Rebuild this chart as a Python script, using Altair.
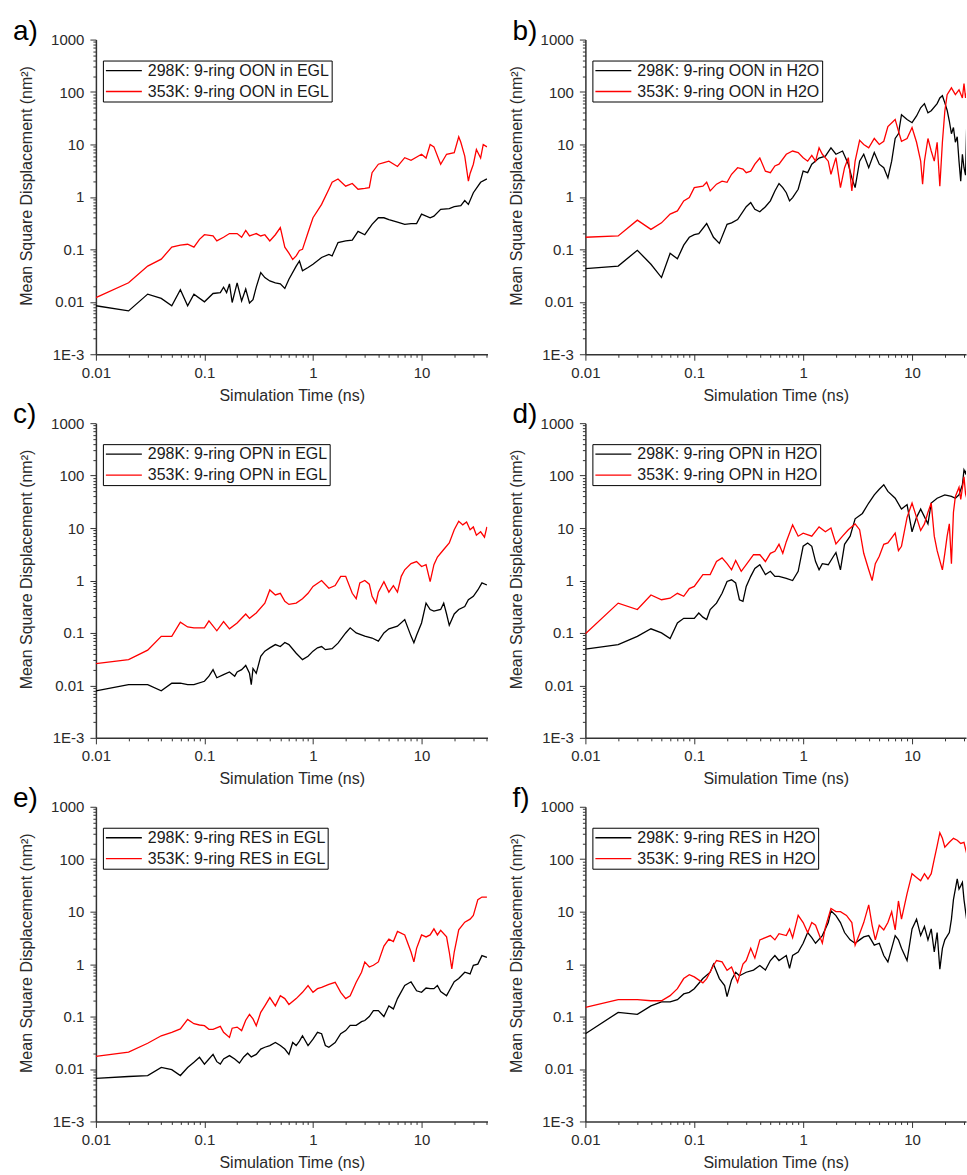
import altair as alt
import pandas as pd

# ---------------- data ----------------
# a) OON in EGL
a298_t = [0.01,0.02,0.03,0.04,0.05,0.06,0.07,0.08,0.1,0.12,0.14,0.15,0.16,0.17,0.18,0.2,0.22,0.24,0.26,0.28,0.3,0.33,0.36,0.4,0.45,0.5,0.55,0.6,0.7,0.75,0.8,0.9,1.0,1.2,1.4,1.5,1.7,2.0,2.3,2.6,3.0,3.5,4.0,4.5,5.0,6.0,7.0,8.0,9.0,10,12,13,15,18,20,23,25,27,30,35,40]
a298_y = [0.0084,0.0067,0.014,0.0116,0.0084,0.017,0.0084,0.014,0.010,0.0144,0.015,0.019,0.015,0.022,0.0097,0.023,0.0104,0.0175,0.0095,0.011,0.019,0.036,0.029,0.025,0.023,0.022,0.018,0.027,0.048,0.06,0.039,0.045,0.052,0.07,0.08,0.075,0.135,0.145,0.15,0.22,0.19,0.3,0.4,0.4,0.37,0.33,0.3,0.31,0.31,0.47,0.4,0.43,0.58,0.6,0.65,0.68,0.85,0.72,1.2,1.9,2.2]
a353_t = [0.01,0.02,0.03,0.04,0.05,0.06,0.07,0.08,0.09,0.1,0.12,0.13,0.15,0.17,0.2,0.22,0.24,0.26,0.3,0.33,0.36,0.4,0.45,0.5,0.55,0.6,0.65,0.7,0.75,0.8,0.9,1.0,1.2,1.4,1.5,1.7,2.0,2.3,2.6,3.0,3.3,3.5,4.0,4.5,5.0,6.0,7.0,8.0,10,11,12,13,15,17,20,22,23,25,27,28,30,32,35,37,40]
a353_y = [0.012,0.023,0.048,0.065,0.11,0.12,0.125,0.11,0.155,0.19,0.18,0.145,0.17,0.2,0.2,0.17,0.23,0.18,0.2,0.18,0.19,0.145,0.19,0.26,0.11,0.085,0.064,0.075,0.095,0.1,0.21,0.4,0.72,1.4,1.9,2.2,1.6,1.8,1.4,1.45,1.5,2.9,4.2,4.5,4.8,3.8,5.6,5.0,6.5,5.5,10,9,4.2,6.5,7,14,11,6,2,2.8,4.2,8,5.5,10,9]

# b) OON in H2O
b298_t = [0.01,0.02,0.03,0.04,0.05,0.06,0.07,0.08,0.09,0.1,0.11,0.13,0.15,0.17,0.2,0.22,0.25,0.3,0.33,0.36,0.4,0.45,0.5,0.55,0.6,0.65,0.7,0.75,0.8,0.9,1.0,1.1,1.2,1.4,1.6,1.8,2.0,2.3,2.6,2.8,3.0,3.3,3.6,4.0,4.5,5.0,5.5,6.0,6.5,7.0,7.5,8.0,9.0,10,11,12,13,14,15,17,18,19,20,21,22,23,24,25,26,27,28,29,30,31,32]
b298_y = [0.043,0.048,0.096,0.052,0.029,0.084,0.066,0.12,0.17,0.19,0.2,0.31,0.17,0.13,0.3,0.32,0.37,0.65,0.78,0.58,0.52,0.65,0.84,1.3,1.8,1.5,1.2,0.84,0.97,1.4,3.1,2.9,4.2,5.5,6,8.6,6.5,7.5,4.2,2.3,1.5,4.8,6.5,3.6,7,4.2,3.6,2.3,4.8,13,16,37,30,26,35,50,60,40,44,60,77,85,62,45,28,16,21,11,14,4.8,2,6.5,3.6,2.6,44]
b353_t = [0.01,0.02,0.03,0.04,0.05,0.06,0.07,0.08,0.09,0.1,0.12,0.13,0.14,0.16,0.18,0.2,0.22,0.25,0.28,0.3,0.33,0.36,0.4,0.45,0.5,0.55,0.6,0.7,0.8,0.9,1.0,1.1,1.2,1.3,1.4,1.5,1.7,1.8,2.0,2.2,2.4,2.6,2.8,3.0,3.3,3.6,4.0,4.5,5.0,5.5,6.0,7.0,7.5,8.0,9.0,10,11,12,12.5,13,14,15,16,17,18,19,20,21,23,25,27,29,30,31,32]
b353_y = [0.17,0.18,0.36,0.24,0.32,0.47,0.54,0.84,0.97,1.5,1.6,1.9,1.3,1.75,2.0,1.9,2.7,3.6,3.4,2.9,3.1,4.2,5.5,3.1,2.9,3.9,4.2,6.5,7.5,7,5.6,4.8,6.2,4.8,8.6,6.5,4.8,2.7,5.6,1.5,3.6,5.6,1.3,4.8,12,10,8.6,13,10,11.5,22,30,18,11.5,13,21,11,4.8,1.75,4.8,13,7.5,4.8,11,1.6,11,43,89,120,89,110,77,145,77,105]

# c) OPN in EGL
c298_t = [0.01,0.02,0.03,0.04,0.05,0.06,0.07,0.08,0.1,0.11,0.12,0.13,0.15,0.17,0.19,0.2,0.22,0.24,0.26,0.27,0.28,0.3,0.33,0.36,0.4,0.45,0.5,0.55,0.6,0.7,0.8,0.9,1.0,1.1,1.2,1.3,1.5,1.7,2.0,2.2,2.5,3.0,3.5,4.0,4.5,5.0,6.0,7.0,8.0,8.5,9.0,10,11,12,13,15,16,17,18,20,22,25,27,30,33,36,40]
c298_y = [0.0079,0.0103,0.0103,0.0079,0.011,0.011,0.0103,0.0103,0.012,0.015,0.02,0.014,0.016,0.018,0.015,0.018,0.02,0.024,0.017,0.0103,0.021,0.017,0.036,0.045,0.052,0.06,0.055,0.066,0.06,0.041,0.031,0.036,0.045,0.052,0.055,0.048,0.05,0.064,0.1,0.125,0.1,0.087,0.08,0.07,0.1,0.12,0.135,0.18,0.087,0.065,0.09,0.155,0.37,0.28,0.26,0.28,0.37,0.23,0.14,0.23,0.28,0.32,0.43,0.5,0.66,0.9,0.82]
c353_t = [0.01,0.02,0.03,0.04,0.05,0.06,0.07,0.08,0.1,0.11,0.13,0.15,0.17,0.2,0.24,0.26,0.3,0.36,0.4,0.45,0.5,0.55,0.6,0.7,0.8,0.9,1.0,1.2,1.4,1.6,1.8,2.0,2.3,2.5,2.7,3.0,3.3,3.5,3.8,4.0,4.5,5.0,5.5,6.0,6.5,7.0,8.0,9.0,10,11,12,13,14,16,18,20,22,24,26,28,30,32,35,38,40]
c353_y = [0.026,0.031,0.047,0.086,0.086,0.16,0.13,0.125,0.125,0.17,0.11,0.165,0.12,0.155,0.23,0.19,0.24,0.37,0.66,0.53,0.57,0.4,0.35,0.37,0.45,0.57,0.77,1.0,0.71,0.8,1.2,1.2,0.57,0.45,0.9,1.0,0.85,0.5,0.37,0.6,0.95,0.6,0.8,0.6,1.2,1.6,2.1,2.3,1.85,2.0,0.95,2.0,2.8,3.9,5.2,9.3,13.5,11.5,13,9.3,10.5,7.3,8.5,6.7,10.5]

# d) OPN in H2O
d298_t = [0.01,0.02,0.03,0.04,0.05,0.06,0.07,0.08,0.1,0.11,0.12,0.13,0.14,0.16,0.18,0.2,0.22,0.24,0.26,0.28,0.3,0.33,0.36,0.4,0.45,0.5,0.55,0.6,0.7,0.8,0.9,1.0,1.1,1.2,1.3,1.4,1.5,1.7,1.9,2.0,2.2,2.4,2.7,3.0,3.5,4.0,4.5,5.0,5.5,6.0,7.0,8.0,9.0,10,11,12,14,15,17,20,23,25,27,29,30,31,32]
d298_y = [0.049,0.06,0.086,0.12,0.1,0.078,0.155,0.19,0.19,0.24,0.2,0.18,0.28,0.37,0.57,0.96,1.03,0.9,0.43,0.4,0.77,1.2,1.7,2.0,1.3,1.5,1.2,1.2,1.1,1.0,1.5,4.5,5.2,4.5,2.3,1.6,2.1,2.0,2.9,3.4,1.6,4.9,7.0,15,19,30,43,55,67,50,37,23,28,8.5,16,23,12,30,37,43,40,37,43,67,128,110,140]
d353_t = [0.01,0.02,0.03,0.04,0.05,0.06,0.07,0.08,0.09,0.1,0.12,0.14,0.16,0.18,0.2,0.22,0.24,0.27,0.3,0.35,0.4,0.45,0.5,0.55,0.6,0.65,0.7,0.8,0.9,1.0,1.2,1.4,1.6,1.8,2.0,2.3,2.6,3.0,3.3,3.6,4.0,4.3,4.6,5.0,5.5,6.0,6.5,7.0,7.5,8.0,9.0,10,11,12,13,14,15,16,17,18,19,20,21,22,23,24,25,27,28,30,31,32]
d353_y = [0.096,0.37,0.28,0.53,0.43,0.46,0.57,0.5,0.7,0.77,1.3,1.3,2.3,2.7,2.1,1.6,2.4,1.5,2.0,3.1,3.1,2.3,3.3,3.6,4.9,3.3,5.5,11.5,7.0,8.0,7.0,10.5,8.5,10,5.0,7,9.3,12,9.3,3.3,1.6,1.0,2.1,2.9,4.9,5.2,6.5,8.0,3.7,4.5,16,30,16,9,12,20,30,7,3.7,2.4,1.6,3.3,7,12,2.1,20,40,60,35,95,45,35]

# e) RES in EGL
e298_t = [0.01,0.02,0.03,0.04,0.05,0.06,0.07,0.08,0.09,0.1,0.11,0.12,0.13,0.14,0.15,0.17,0.19,0.21,0.23,0.25,0.27,0.3,0.33,0.36,0.4,0.45,0.5,0.55,0.6,0.65,0.7,0.75,0.8,0.9,1.0,1.1,1.2,1.3,1.4,1.6,1.8,2.0,2.2,2.5,2.8,3.0,3.3,3.6,4.0,4.5,5.0,5.5,6.0,7.0,8.0,9.0,10,11,12,13,14,15,17,18,20,22,25,28,30,33,36,40]
e298_y = [0.0066,0.0072,0.0075,0.0107,0.0097,0.0075,0.0107,0.0134,0.0167,0.0124,0.0155,0.019,0.0138,0.0124,0.0155,0.018,0.0155,0.013,0.017,0.02,0.017,0.019,0.024,0.026,0.028,0.032,0.028,0.024,0.019,0.032,0.028,0.034,0.043,0.028,0.037,0.05,0.047,0.028,0.026,0.032,0.047,0.054,0.068,0.068,0.08,0.084,0.1,0.13,0.13,0.1,0.16,0.14,0.22,0.39,0.46,0.31,0.29,0.35,0.34,0.34,0.39,0.3,0.25,0.31,0.46,0.53,0.7,0.65,0.95,1.0,1.45,1.35]
e353_t = [0.01,0.02,0.03,0.04,0.05,0.06,0.07,0.08,0.09,0.1,0.11,0.12,0.14,0.15,0.17,0.18,0.2,0.22,0.24,0.26,0.28,0.3,0.33,0.36,0.4,0.45,0.5,0.55,0.6,0.7,0.8,0.9,1.0,1.1,1.2,1.4,1.6,1.8,2.0,2.2,2.5,2.8,3.0,3.3,3.6,4.0,4.5,5.0,5.5,6.0,7.0,8.0,8.5,9.0,10,11,12,13,14,15,17,18,19,20,22,25,28,30,33,36,40]
e353_y = [0.0174,0.021,0.031,0.043,0.05,0.058,0.088,0.073,0.069,0.067,0.057,0.057,0.065,0.05,0.04,0.06,0.063,0.054,0.085,0.11,0.09,0.067,0.12,0.16,0.23,0.16,0.25,0.22,0.17,0.22,0.29,0.39,0.29,0.34,0.36,0.41,0.45,0.29,0.22,0.25,0.45,0.7,1.1,0.88,0.95,1.1,2.2,3.0,2.7,4.2,3.6,1.7,1.1,2.0,3.6,3.3,3.6,4.7,3.6,4.4,3.3,1.7,0.81,1.7,4.5,6.3,7.2,8.5,17,19,19]

# f) RES in H2O
f298_t = [0.01,0.02,0.03,0.04,0.05,0.06,0.07,0.08,0.09,0.1,0.12,0.14,0.15,0.17,0.19,0.2,0.22,0.24,0.26,0.3,0.35,0.4,0.45,0.5,0.55,0.6,0.7,0.75,0.8,0.9,1.0,1.1,1.2,1.3,1.5,1.7,1.8,2.0,2.2,2.4,2.7,3.0,3.3,3.6,4.0,4.5,5.0,5.5,6.0,6.5,7.0,7.5,8.0,9.0,10,11,12,13,14,15,16,17,18,19,20,22,23,24,26,27,28,29,30,32]
f298_y = [0.047,0.12,0.11,0.16,0.19,0.19,0.21,0.27,0.29,0.34,0.53,0.7,1.0,0.53,0.39,0.24,0.5,0.7,0.6,0.7,0.77,0.94,0.77,1.17,1.46,1.17,1.46,0.83,1.46,1.7,2.5,4.0,3.2,2.5,3.5,6.2,10.4,8.4,6.2,4.0,2.9,2.5,2.9,3.3,3.5,2.3,2.5,1.46,1.1,2.0,3.5,2.9,2.0,1.17,4.7,7.2,3.5,5.2,2.9,4.7,1.7,4.0,0.8,2.0,2.9,4.0,7.2,17,42,27,31,36,17,6.2]
f353_t = [0.01,0.02,0.03,0.04,0.05,0.06,0.07,0.08,0.09,0.1,0.12,0.13,0.15,0.16,0.18,0.2,0.22,0.25,0.28,0.3,0.33,0.36,0.4,0.45,0.5,0.55,0.6,0.7,0.75,0.8,0.9,1.0,1.1,1.2,1.3,1.5,1.6,1.8,2.0,2.2,2.5,2.8,3.0,3.3,3.6,4.0,4.3,4.6,5.0,5.5,6.0,6.5,7.0,7.5,8.0,9.0,10,11,12,13,14,15,16,17,18,19,20,22,24,26,28,30,32]
f353_y = [0.15,0.21,0.21,0.2,0.2,0.25,0.34,0.53,0.63,0.57,0.44,0.53,0.94,1.17,1.1,0.76,0.88,0.45,1.0,1.17,2.0,1.3,2.9,3.2,3.5,2.9,3.8,3.5,4.7,3.2,8.5,6.2,4.0,6.2,5.5,2.5,5.0,11.5,10,10,8.5,6.2,2.3,3.8,6.2,13.5,5.5,2.9,5.5,4.5,6.2,10,4.5,16,7.2,22,53,45,39,53,42,53,100,180,320,250,170,210,250,230,200,210,120]

panel_letters = ["a)", "b)", "c)", "d)", "e)", "f)"]
panel_names = ["OON in EGL", "OON in H2O", "OPN in EGL", "OPN in H2O", "RES in EGL", "RES in H2O"]
y_tick_values = [m * 10.0 ** e for e in range(-3, 3) for m in range(1, 10)] + [1000.0]
x_tick_left = [m * 10.0 ** e for e in range(-2, 1) for m in range(1, 10)] + [10.0, 20.0, 30.0, 40.0]
x_tick_right = [m * 10.0 ** e for e in range(-2, 1) for m in range(1, 10)] + [10.0, 20.0, 30.0]

# ---------------- styling ----------------
FONT = "Liberation Sans"
TXT = "#2a2a2a"
MAJOR = "abs(log(datum.value)/LN10 - round(log(datum.value)/LN10)) < 0.000001"
LABEL_EXPR = "(" + MAJOR + ") ? (datum.value < 0.002 ? '1E-3' : format(datum.value, '~g')) : ''"
TICK_SIZE = {"condition": {"test": MAJOR, "value": 6}, "value": 3}

PLOT_H = 315


def panel(t298, y298, t353, y353, name, letter, xmax, width, xticks, label_dx):
    lab298 = "298K: 9-ring " + name
    lab353 = "353K: 9-ring " + name
    df = pd.concat([
        pd.DataFrame({"t": t298, "msd": y298, "series": lab298}),
        pd.DataFrame({"t": t353, "msd": y353, "series": lab353}),
    ], ignore_index=True)

    lines = alt.Chart(df).mark_line(strokeWidth=1.3, clip=True).encode(
        x=alt.X("t:Q",
                scale=alt.Scale(type="log", domain=[0.01, xmax], nice=False),
                axis=alt.Axis(values=xticks, labelExpr=LABEL_EXPR, tickSize=TICK_SIZE,
                              labelPadding=5, titlePadding=7, labelOverlap=False,
                              labelFlush=False, grid=False,
                              labelFont=FONT, titleFont=FONT, labelFontSize=15, titleFontSize=16,
                              labelColor=TXT, titleColor=TXT, titleFontWeight="normal"),
                title="Simulation Time (ns)"),
        y=alt.Y("msd:Q",
                scale=alt.Scale(type="log", domain=[0.001, 1000], nice=False),
                axis=alt.Axis(values=y_tick_values, labelExpr=LABEL_EXPR, tickSize=TICK_SIZE,
                              labelPadding=6, titlePadding=16, labelOverlap=False,
                              labelFlush=False, grid=False, titleY=146,
                              labelFont=FONT, titleFont=FONT, labelFontSize=15, titleFontSize=16,
                              labelColor=TXT, titleColor=TXT, titleFontWeight="normal"),
                title="Mean Square Displacement (nm²)"),
        color=alt.Color("series:N",
                        scale=alt.Scale(domain=[lab298, lab353], range=["#000000", "#ff0000"]),
                        legend=alt.Legend(title=None, orient="none", legendX=7, legendY=21,
                                          direction="vertical",
                                          symbolType="M-3,0H3", symbolSize=144,
                                          symbolStrokeWidth=1.3, symbolOffset=11,
                                          labelOffset=16, labelFontSize=16, labelFont=FONT,
                                          labelColor="#1a1a1a", labelLimit=400,
                                          strokeColor="#000000", fillColor="#ffffff",
                                          padding=2, rowPadding=5)),
    )

    label = alt.Chart(alt.Data(values=[{"lab": letter}])).mark_text(
        font=FONT, fontSize=28, align="left", baseline="alphabetic", color="#000000"
    ).encode(x=alt.value(label_dx), y=alt.value(0), text="lab:N")

    return alt.layer(lines, label).properties(width=width, height=PLOT_H)


series = [
    (a298_t, a298_y, a353_t, a353_y),
    (b298_t, b298_y, b353_t, b353_y),
    (c298_t, c298_y, c353_t, c353_y),
    (d298_t, d298_y, d353_t, d353_y),
    (e298_t, e298_y, e353_t, e353_y),
    (f298_t, f298_y, f353_t, f353_y),
]

panels = []
for i, (t1, y1, t2, y2) in enumerate(series):
    left = (i % 2 == 0)
    panels.append(panel(t1, y1, t2, y2, panel_names[i], panel_letters[i],
                        40.5 if left else 31.3,
                        392 if left else 381,
                        x_tick_left if left else x_tick_right,
                        -83 if left else -73))

chart = alt.concat(*panels, columns=2, spacing={"row": 69, "column": 98}, bounds="flush").resolve_scale(
    x="independent", y="independent", color="independent"
).resolve_axis(x="independent", y="independent").resolve_legend(color="independent").properties(
    padding={"left": 12, "top": 16, "right": 0, "bottom": 0},
    background="#ffffff"
).configure_view(stroke="transparent").configure_axis(
    domainColor="#333333", domainWidth=1.5, tickColor="#333333", tickWidth=1
)

chart.save("out.html", embed_options={"renderer": "svg", "actions": False})
